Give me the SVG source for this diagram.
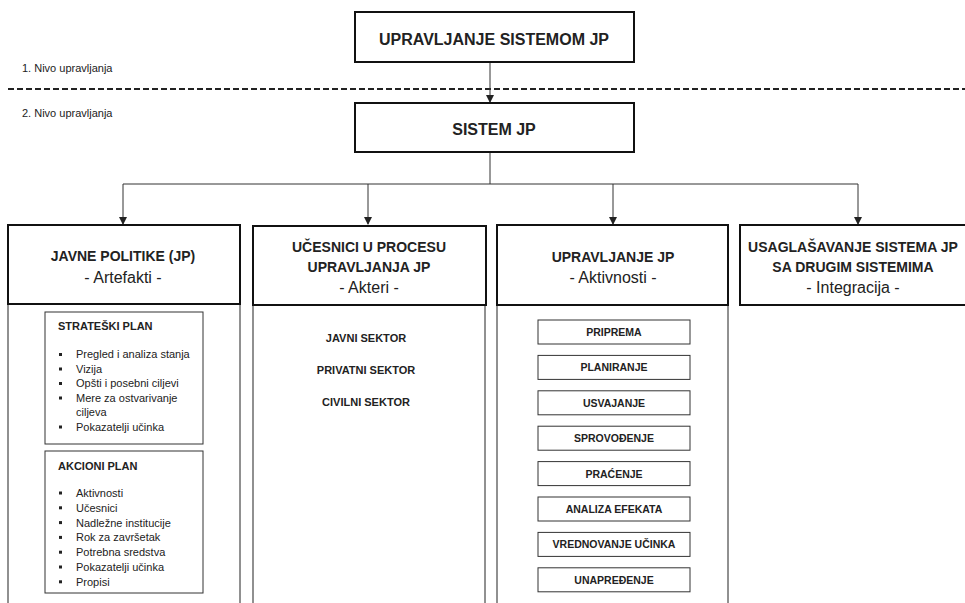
<svg xmlns="http://www.w3.org/2000/svg" width="965" height="603" viewBox="0 0 965 603">
<defs>
<marker id="ah" markerWidth="8" markerHeight="8" refX="7" refY="4" orient="auto" markerUnits="userSpaceOnUse">
<path d="M0,0 L8,4 L0,8 Z" fill="#222"/>
</marker>
<style>
text{font-family:"Liberation Sans",Arial,sans-serif;fill:#222}
.hb{fill:#fff;stroke:#111;stroke-width:2}
.pb{fill:#fff;stroke:#222;stroke-width:1}
.ib{fill:#fff;stroke:#333;stroke-width:1}
.t16{font-size:16px;font-weight:bold;text-anchor:middle}
.t14{font-size:14px;font-weight:bold;text-anchor:middle}
.s16{font-size:16px;text-anchor:middle}
.lvl{font-size:11px}
.b11{font-size:11px;font-weight:bold}
.c11{font-size:11px;font-weight:bold;text-anchor:middle}
.c10{font-size:10.5px;font-weight:bold;text-anchor:middle}
.li{font-size:11px}
.con{fill:none;stroke:#333;stroke-width:1}
.bul{fill:#222}
</style>
</defs>
<rect width="965" height="603" fill="#fff"/>
<text class="lvl" x="22" y="72">1. Nivo upravljanja</text>
<text class="lvl" x="22" y="117">2. Nivo upravljanja</text>
<line x1="8" y1="89" x2="965" y2="89" stroke="#222" stroke-width="2" stroke-dasharray="6,3"/>
<g id="connectors">
<line class="con" x1="490" y1="62" x2="490" y2="102" marker-end="url(#ah)"/>
<polyline class="con" points="490,152 490,184"/>
<polyline class="con" points="123,184 858,184"/>
<line class="con" x1="123" y1="184" x2="123" y2="224" marker-end="url(#ah)"/>
<line class="con" x1="368" y1="184" x2="368" y2="224" marker-end="url(#ah)"/>
<line class="con" x1="613" y1="184" x2="613" y2="224" marker-end="url(#ah)"/>
<line class="con" x1="858" y1="184" x2="858" y2="224" marker-end="url(#ah)"/>
</g>
<g id="upravljanje-sistemom">
<rect class="hb" x="355" y="12" width="279" height="50"/>
<text class="t16" x="494" y="45">UPRAVLJANJE SISTEMOM JP</text>
</g>
<g id="sistem-jp">
<rect class="hb" x="355" y="103" width="279" height="49"/>
<text class="t16" x="494" y="135">SISTEM JP</text>
</g>
<g id="javne-politike">
<rect class="pb" x="8" y="304" width="232" height="310"/>
<rect class="hb" x="8" y="225" width="232" height="79"/>
<text class="t14" x="123" y="261">JAVNE POLITIKE (JP)</text>
<text class="s16" x="123" y="283">- Artefakti -</text>
<g id="strateski-plan">
<rect class="ib" x="45" y="312" width="158" height="132"/>
<text class="b11" x="58" y="330">STRATEŠKI PLAN</text>
<rect class="bul" x="59" y="353" width="3" height="3"/>
<rect class="bul" x="59" y="367.5" width="3" height="3"/>
<rect class="bul" x="59" y="382" width="3" height="3"/>
<rect class="bul" x="59" y="396.5" width="3" height="3"/>
<rect class="bul" x="59" y="425.5" width="3" height="3"/>
<text class="li" x="76" y="358">Pregled i analiza stanja</text>
<text class="li" x="76" y="372.5">Vizija</text>
<text class="li" x="76" y="387">Opšti i posebni ciljevi</text>
<text class="li" x="76" y="401.5">Mere za ostvarivanje</text>
<text class="li" x="76" y="416">ciljeva</text>
<text class="li" x="76" y="430.5">Pokazatelji učinka</text>
</g>
<g id="akcioni-plan">
<rect class="ib" x="45" y="451" width="158" height="142"/>
<text class="b11" x="58" y="470">AKCIONI PLAN</text>
<rect class="bul" x="59" y="491.5" width="3" height="3"/>
<rect class="bul" x="59" y="506.3" width="3" height="3"/>
<rect class="bul" x="59" y="521.1" width="3" height="3"/>
<rect class="bul" x="59" y="535.9" width="3" height="3"/>
<rect class="bul" x="59" y="550.7" width="3" height="3"/>
<rect class="bul" x="59" y="565.5" width="3" height="3"/>
<rect class="bul" x="59" y="580.3" width="3" height="3"/>
<text class="li" x="76" y="497">Aktivnosti</text>
<text class="li" x="76" y="511.8">Učesnici</text>
<text class="li" x="76" y="526.6">Nadležne institucije</text>
<text class="li" x="76" y="541.4">Rok za završetak</text>
<text class="li" x="76" y="556.2">Potrebna sredstva</text>
<text class="li" x="76" y="571">Pokazatelji učinka</text>
<text class="li" x="76" y="585.8">Propisi</text>
</g>
</g>
<g id="ucesnici">
<rect class="pb" x="253" y="304" width="232" height="310"/>
<rect class="hb" x="253" y="226" width="233" height="79"/>
<text class="t14" x="369" y="252">UČESNICI U PROCESU</text>
<text class="t14" x="369" y="272">UPRAVLJANJA JP</text>
<text class="s16" x="369" y="293">- Akteri -</text>
<text class="c11" x="366" y="342">JAVNI SEKTOR</text>
<text class="c11" x="366" y="374">PRIVATNI SEKTOR</text>
<text class="c11" x="366" y="406">CIVILNI SEKTOR</text>
</g>
<g id="upravljanje-jp">
<rect class="pb" x="497" y="304" width="231" height="310"/>
<rect class="hb" x="497" y="225" width="231" height="80"/>
<text class="t14" x="613" y="262">UPRAVLJANJE JP</text>
<text class="s16" x="613" y="283">- Aktivnosti -</text>
<g id="aktivnosti">
<rect class="ib" x="538" y="320" width="152" height="24"/>
<text class="c10" x="614" y="336">PRIPREMA</text>
<rect class="ib" x="538" y="355.4" width="152" height="24"/>
<text class="c10" x="614" y="371.4">PLANIRANJE</text>
<rect class="ib" x="538" y="390.8" width="152" height="24"/>
<text class="c10" x="614" y="406.8">USVAJANJE</text>
<rect class="ib" x="538" y="426.2" width="152" height="24"/>
<text class="c10" x="614" y="442.2">SPROVOĐENJE</text>
<rect class="ib" x="538" y="461.6" width="152" height="24"/>
<text class="c10" x="614" y="477.6">PRAĆENJE</text>
<rect class="ib" x="538" y="497" width="152" height="24"/>
<text class="c10" x="614" y="513">ANALIZA EFEKATA</text>
<rect class="ib" x="538" y="532.4" width="152" height="24"/>
<text class="c10" x="614" y="548.4">VREDNOVANJE UČINKA</text>
<rect class="ib" x="538" y="567.8" width="152" height="24"/>
<text class="c10" x="614" y="583.8">UNAPREĐENJE</text>
</g>
</g>
<g id="usaglasavanje">
<rect class="hb" x="740" y="225" width="230" height="80"/>
<text class="t14" x="853" y="252">USAGLAŠAVANJE SISTEMA JP</text>
<text class="t14" x="853" y="272">SA DRUGIM SISTEMIMA</text>
<text class="s16" x="853" y="293">- Integracija -</text>
</g>
</svg>
